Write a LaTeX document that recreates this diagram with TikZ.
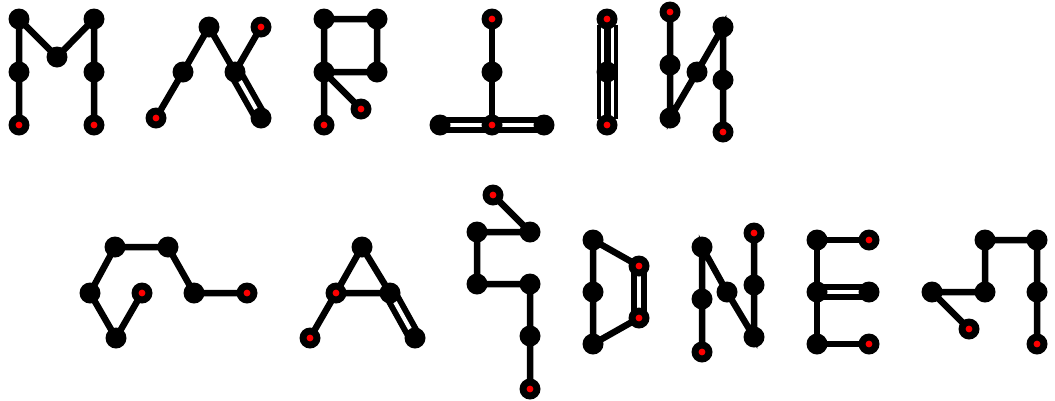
\documentclass[tikz,border=0pt]{standalone}
\usetikzlibrary{backgrounds}

\tikzset{
  atom/.style={circle, fill=black, minimum size=21pt, inner sep=0pt},
  tip/.style={atom, path picture={\fill[red] (path picture bounding box.center) circle (3.4pt);}},
  bond/.style={line width=6.5pt},
  dbond/.style={line width=6pt, double=white, double distance=4pt},
  tbond/.style={line width=4pt, double=white, double distance=13pt}
}

\begin{document}
\begin{tikzpicture}[x=1pt, y=-1pt]
\useasboundingbox (0,0) rectangle (1055,400);
% M
\node[atom] (m1) at (19,19) {};
\node[atom] (m2) at (57,57) {};
\node[atom] (m3) at (94,19) {};
\node[atom] (m4) at (19,72) {};
\node[atom] (m5) at (94,72) {};
\node[tip] (m6) at (19,125) {};
\node[tip] (m7) at (94,125) {};
% A
\node[tip] (a1) at (156,118) {};
\node[atom] (a2) at (183,72) {};
\node[atom] (a3) at (209,27) {};
\node[atom] (a4) at (235,72) {};
\node[tip] (a5) at (261,27) {};
\node[atom] (a6) at (261,118) {};
% R
\node[atom] (r1) at (324,19) {};
\node[atom] (r2) at (377,19) {};
\node[atom] (r3) at (324,72) {};
\node[atom] (r4) at (377,72) {};
\node[tip] (r5) at (361,109) {};
\node[tip] (r6) at (324,125) {};
% T
\node[tip] (t1) at (492,19) {};
\node[atom] (t2) at (492,72) {};
\node[tip] (t3) at (492,125) {};
\node[atom] (t4) at (440,125) {};
\node[atom] (t5) at (544,125) {};
% I
\node[tip] (i1) at (607,19) {};
\node[atom] (i2) at (607,72) {};
\node[tip] (i3) at (607,125) {};
% N
\node[tip] (n1) at (670,12) {};
\node[atom] (n2) at (670,65) {};
\node[atom] (n3) at (670,118) {};
\node[atom] (n4) at (697,72) {};
\node[atom] (n5) at (723,27) {};
\node[atom] (n6) at (723,80) {};
\node[tip] (n7) at (723,132) {};
% G
\node[tip] (g1) at (142,293) {};
\node[atom] (g2) at (116,338) {};
\node[atom] (g3) at (90,293) {};
\node[atom] (g4) at (115,247) {};
\node[atom] (g5) at (168,247) {};
\node[atom] (g6) at (194,293) {};
\node[tip] (g7) at (247,293) {};
% A
\node[tip] (aa1) at (310,338) {};
\node[tip] (aa2) at (336,293) {};
\node[atom] (aa3) at (362,247) {};
\node[atom] (aa4) at (390,293) {};
\node[atom] (aa5) at (415,338) {};
% R
\node[tip] (rr1) at (493,195) {};
\node[atom] (rr2) at (530,232) {};
\node[atom] (rr3) at (477,232) {};
\node[atom] (rr4) at (477,284) {};
\node[atom] (rr5) at (530,284) {};
\node[atom] (rr6) at (530,336) {};
\node[tip] (rr7) at (530,389) {};
% D
\node[atom] (d1) at (593,240) {};
\node[atom] (d2) at (593,292) {};
\node[atom] (d3) at (593,344) {};
\node[tip] (d4) at (639,318) {};
\node[tip] (d5) at (639,266) {};
% N
\node[tip] (nn1) at (702,352) {};
\node[atom] (nn2) at (702,299) {};
\node[atom] (nn3) at (702,247) {};
\node[atom] (nn4) at (727,292) {};
\node[atom] (nn5) at (754,337) {};
\node[atom] (nn6) at (754,285) {};
\node[tip] (nn7) at (754,233) {};
% E
\node[tip] (e1) at (869,240) {};
\node[atom] (e2) at (817,240) {};
\node[atom] (e3) at (817,292) {};
\node[atom] (e4) at (817,344) {};
\node[tip] (e5) at (869,344) {};
\node[atom] (e6) at (869,292) {};
% R
\node[tip] (rb1) at (969,329) {};
\node[atom] (rb2) at (932,292) {};
\node[atom] (rb3) at (985,292) {};
\node[atom] (rb4) at (985,240) {};
\node[atom] (rb5) at (1037,240) {};
\node[atom] (rb6) at (1037,292) {};
\node[tip] (rb7) at (1037,344) {};

% bonds under the atoms
\begin{scope}[on background layer]
\draw[bond] (m6.center) -- (m4.center) -- (m1.center) -- (m2.center) -- (m3.center) -- (m5.center) -- (m7.center);
\draw[bond] (a1.center) -- (a2.center) -- (a3.center) -- (a4.center) -- (a5.center);
\draw[dbond] (a4.center) -- (a6.center);
\draw[bond] (r6.center) -- (r3.center) -- (r1.center) -- (r2.center) -- (r4.center) -- (r3.center) -- (r5.center);
\draw[bond] (t1.center) -- (t2.center) -- (t3.center);
\draw[dbond] (t4.center) -- (t5.center);
\draw[tbond, shorten <=6pt] (i1.center) -- (i2.center);
\draw[tbond, shorten >=6pt] (i2.center) -- (i3.center);
\draw[bond, line width=7pt] (i1.center) -- (i3.center);
\draw[bond] (n1.center) -- (n2.center) -- (n3.center) -- (n4.center) -- (n5.center) -- (n6.center) -- (n7.center);
\draw[bond] (g1.center) -- (g2.center) -- (g3.center) -- (g4.center) -- (g5.center) -- (g6.center) -- (g7.center);
\draw[bond] (aa1.center) -- (aa2.center) -- (aa3.center) -- (aa4.center) -- (aa2.center);
\draw[dbond] (aa4.center) -- (aa5.center);
\draw[bond] (rr1.center) -- (rr2.center) -- (rr3.center) -- (rr4.center) -- (rr5.center) -- (rr6.center) -- (rr7.center);
\draw[bond] (d5.center) -- (d1.center) -- (d2.center) -- (d3.center) -- (d4.center);
\draw[dbond] (d4.center) -- (d5.center);
\draw[bond] (nn1.center) -- (nn2.center) -- (nn3.center) -- (nn4.center) -- (nn5.center) -- (nn6.center) -- (nn7.center);
\draw[bond] (e1.center) -- (e2.center) -- (e3.center) -- (e4.center) -- (e5.center);
\draw[dbond] (e3.center) -- (e6.center);
\draw[bond] (rb1.center) -- (rb2.center) -- (rb3.center) -- (rb4.center) -- (rb5.center) -- (rb6.center) -- (rb7.center);
\end{scope}
\end{tikzpicture}
\end{document}
